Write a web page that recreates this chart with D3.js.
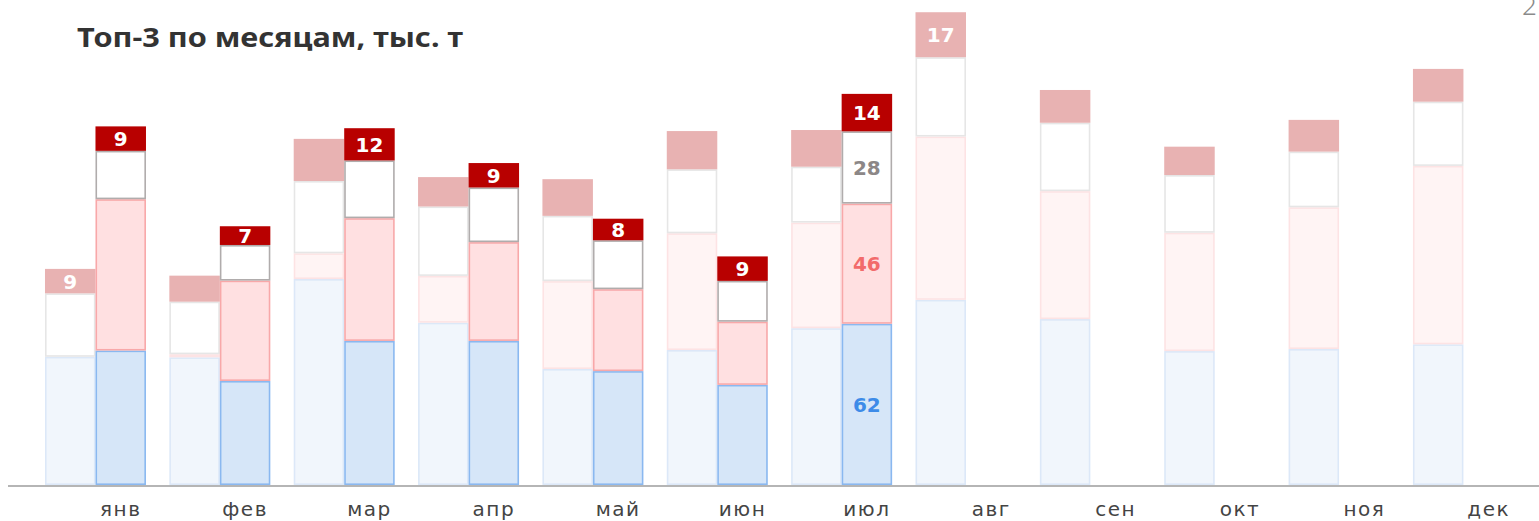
<!DOCTYPE html>
<html>
<head>
<meta charset="utf-8">
<script src="https://cdn.jsdelivr.net/npm/d3@7"></script>
<style>
  html, body { margin: 0; padding: 0; background: #fff; overflow: hidden; }
  svg { display: block; font-family: "Noto Sans", "Open Sans", sans-serif; }
</style>
</head>
<body>
<script>
// months on the x axis
let months = ["янв", "фев", "мар", "апр", "май", "июн", "июл", "авг", "сен", "окт", "ноя", "дек"];

// previous year (light bars), thousand tonnes, bottom -> top
let prevBlue = [49.3, 49.1, 79.2, 62.4, 44.6, 51.9, 60.3, 71.2, 63.8, 51.5, 52.3, 54.1];
let prevPink = [0, 1.2, 9.9, 18.0, 33.8, 44.9, 40.6, 62.8, 49.2, 45.5, 54.5, 68.6];
let prevGray = [24.4, 20.2, 27.8, 26.7, 25.1, 24.6, 21.5, 30.5, 26.3, 22.2, 21.4, 24.7];
let prevRed  = [9.4, 10.0, 16.2, 11.3, 14.1, 14.7, 14.1, 17.3, 12.6, 10.9, 12.2, 12.6];

// current year (only jan..jul)
let curBlue = [51.7, 40.0, 55.4, 55.4, 43.8, 38.5, 62];
let curPink = [58.2, 38.6, 47.2, 38.0, 31.5, 24.3, 46.2];
let curGray = [18.6, 13.7, 22.2, 21.0, 18.8, 15.7, 27.8];
let curRed  = [9.4, 7.2, 12.4, 9.4, 8.3, 9.4, 14.4];

// which prev-year tops carry a number, and which current month shows all numbers
let prevLabelled = ["янв", "авг"];
let fullLabelMonth = "июл";

let w = 1539;
let h = 521;
let baseY = 485;

let keys = ["blue", "pink", "gray", "red"];

let prevRows = months.map((m, i) => ({month: m, blue: prevBlue[i], pink: prevPink[i], gray: prevGray[i], red: prevRed[i]}));
let curRows = curBlue.map((v, i) => ({month: months[i], blue: curBlue[i], pink: curPink[i], gray: curGray[i], red: curRed[i]}));

let stack = d3.stack().keys(keys);
let prevStack = stack(prevRows);
let curStack = stack(curRows);

let xScale = d3.scaleBand()
  .domain(months)
  .range([33.3, 33.3 + 12 * 124.36]);

let xInner = d3.scaleBand()
  .domain(["prev", "cur"])
  .range([0, xScale.bandwidth()])
  .paddingOuter(0.2313);

let yScale = d3.scaleLinear()
  .domain([0, 186.5])
  .range([baseY, 0]);

let styles = {
  prev: {
    blue: {fill: "#f1f6fc", stroke: "#dce8f8"},
    pink: {fill: "#fff4f4", stroke: "#fde3e4"},
    gray: {fill: "#ffffff", stroke: "#e6e6e6"},
    red:  {fill: "#e8b2b2", stroke: "none"}
  },
  cur: {
    blue: {fill: "#d6e6f8", stroke: "#8ab8f0"},
    pink: {fill: "#ffe0e1", stroke: "#f8a8a9"},
    gray: {fill: "#ffffff", stroke: "#b0acac"},
    red:  {fill: "#b80000", stroke: "none"}
  }
};
let labelColors = {blue: "#3d8be8", pink: "#f26b6b", gray: "#8c8787", red: "#ffffff"};

let svg = d3.select("body")
  .append("svg")
  .attr("width", w)
  .attr("height", h);

// title
svg.append("text")
  .attr("x", 77)
  .attr("y", 47)
  .attr("font-size", 27)
  .attr("font-weight", 700)
  .attr("fill", "#333333")
  .attr("textLength", 386)
  .attr("lengthAdjust", "spacingAndGlyphs")
  .text("Топ-3 по месяцам, тыс. т");

// clipped page number in the corner
svg.append("text")
  .attr("x", 1522)
  .attr("y", 15)
  .attr("font-size", 26)
  .attr("font-weight", 300)
  .attr("fill", "#8a8a8a")
  .text("2");

function drawBars(series, which) {
  let g = svg.append("g").attr("class", "bars-" + which);
  series.forEach(s => {
    let st = styles[which][s.key];
    let sw = st.stroke == "none" ? 0 : 1.6;
    g.selectAll("rect.seg-" + s.key)
      .data(s)
      .enter()
      .append("rect")
      .attr("class", "seg-" + s.key)
      .attr("x", d => xScale(d.data.month) + xInner(which) + sw / 2)
      .attr("y", d => yScale(d[1]) + sw / 2)
      .attr("width", xInner.bandwidth() - sw)
      .attr("height", d => Math.max(0, yScale(d[0]) - yScale(d[1]) - sw))
      .attr("fill", st.fill)
      .attr("stroke", st.stroke)
      .attr("stroke-width", sw)
      .attr("opacity", d => d[1] - d[0] > 0 ? 1 : 0);
  });
}

drawBars(prevStack, "prev");
drawBars(curStack, "cur");

function segLabel(d, which, key) {
  svg.append("text")
    .attr("x", xScale(d.data.month) + xInner(which) + xInner.bandwidth() / 2)
    .attr("y", (yScale(d[0]) + yScale(d[1])) / 2)
    .attr("dy", "0.37em")
    .attr("text-anchor", "middle")
    .attr("font-family", "'DejaVu Sans', sans-serif")
    .attr("font-size", 20)
    .attr("font-weight", 700)
    .attr("fill", labelColors[key])
    .text(d3.format(".0f")(d[1] - d[0]));
}

// prev-year labels (top segment only)
prevStack[3].forEach(d => {
  if (prevLabelled.includes(d.data.month)) segLabel(d, "prev", "red");
});

// current-year labels
curStack.forEach(s => {
  s.forEach(d => {
    if (s.key == "red" || d.data.month == fullLabelMonth) segLabel(d, "cur", s.key);
  });
});

// x axis, labels under the current-year bar
let xAxis = d3.axisBottom(xScale).tickSize(0).tickPadding(0);
let axisG = svg.append("g")
  .attr("id", "x-axis")
  .attr("transform", "translate(0," + (baseY + 1) + ")")
  .call(xAxis);
axisG.select(".domain").remove();
axisG.selectAll(".tick")
  .attr("transform", d => "translate(" + (xScale(d) + xInner("cur") + xInner.bandwidth() / 2) + ",0)");
axisG.selectAll(".tick text")
  .attr("y", 30)
  .attr("dy", 0)
  .attr("font-family", "'DejaVu Sans', sans-serif")
  .attr("font-size", 20)
  .attr("letter-spacing", 1.5)
  .attr("fill", "#444444");

svg.append("line")
  .attr("x1", 8)
  .attr("x2", w)
  .attr("y1", baseY + 1)
  .attr("y2", baseY + 1)
  .attr("stroke", "#b5b5b5")
  .attr("stroke-width", 2);
</script>
</body>
</html>
